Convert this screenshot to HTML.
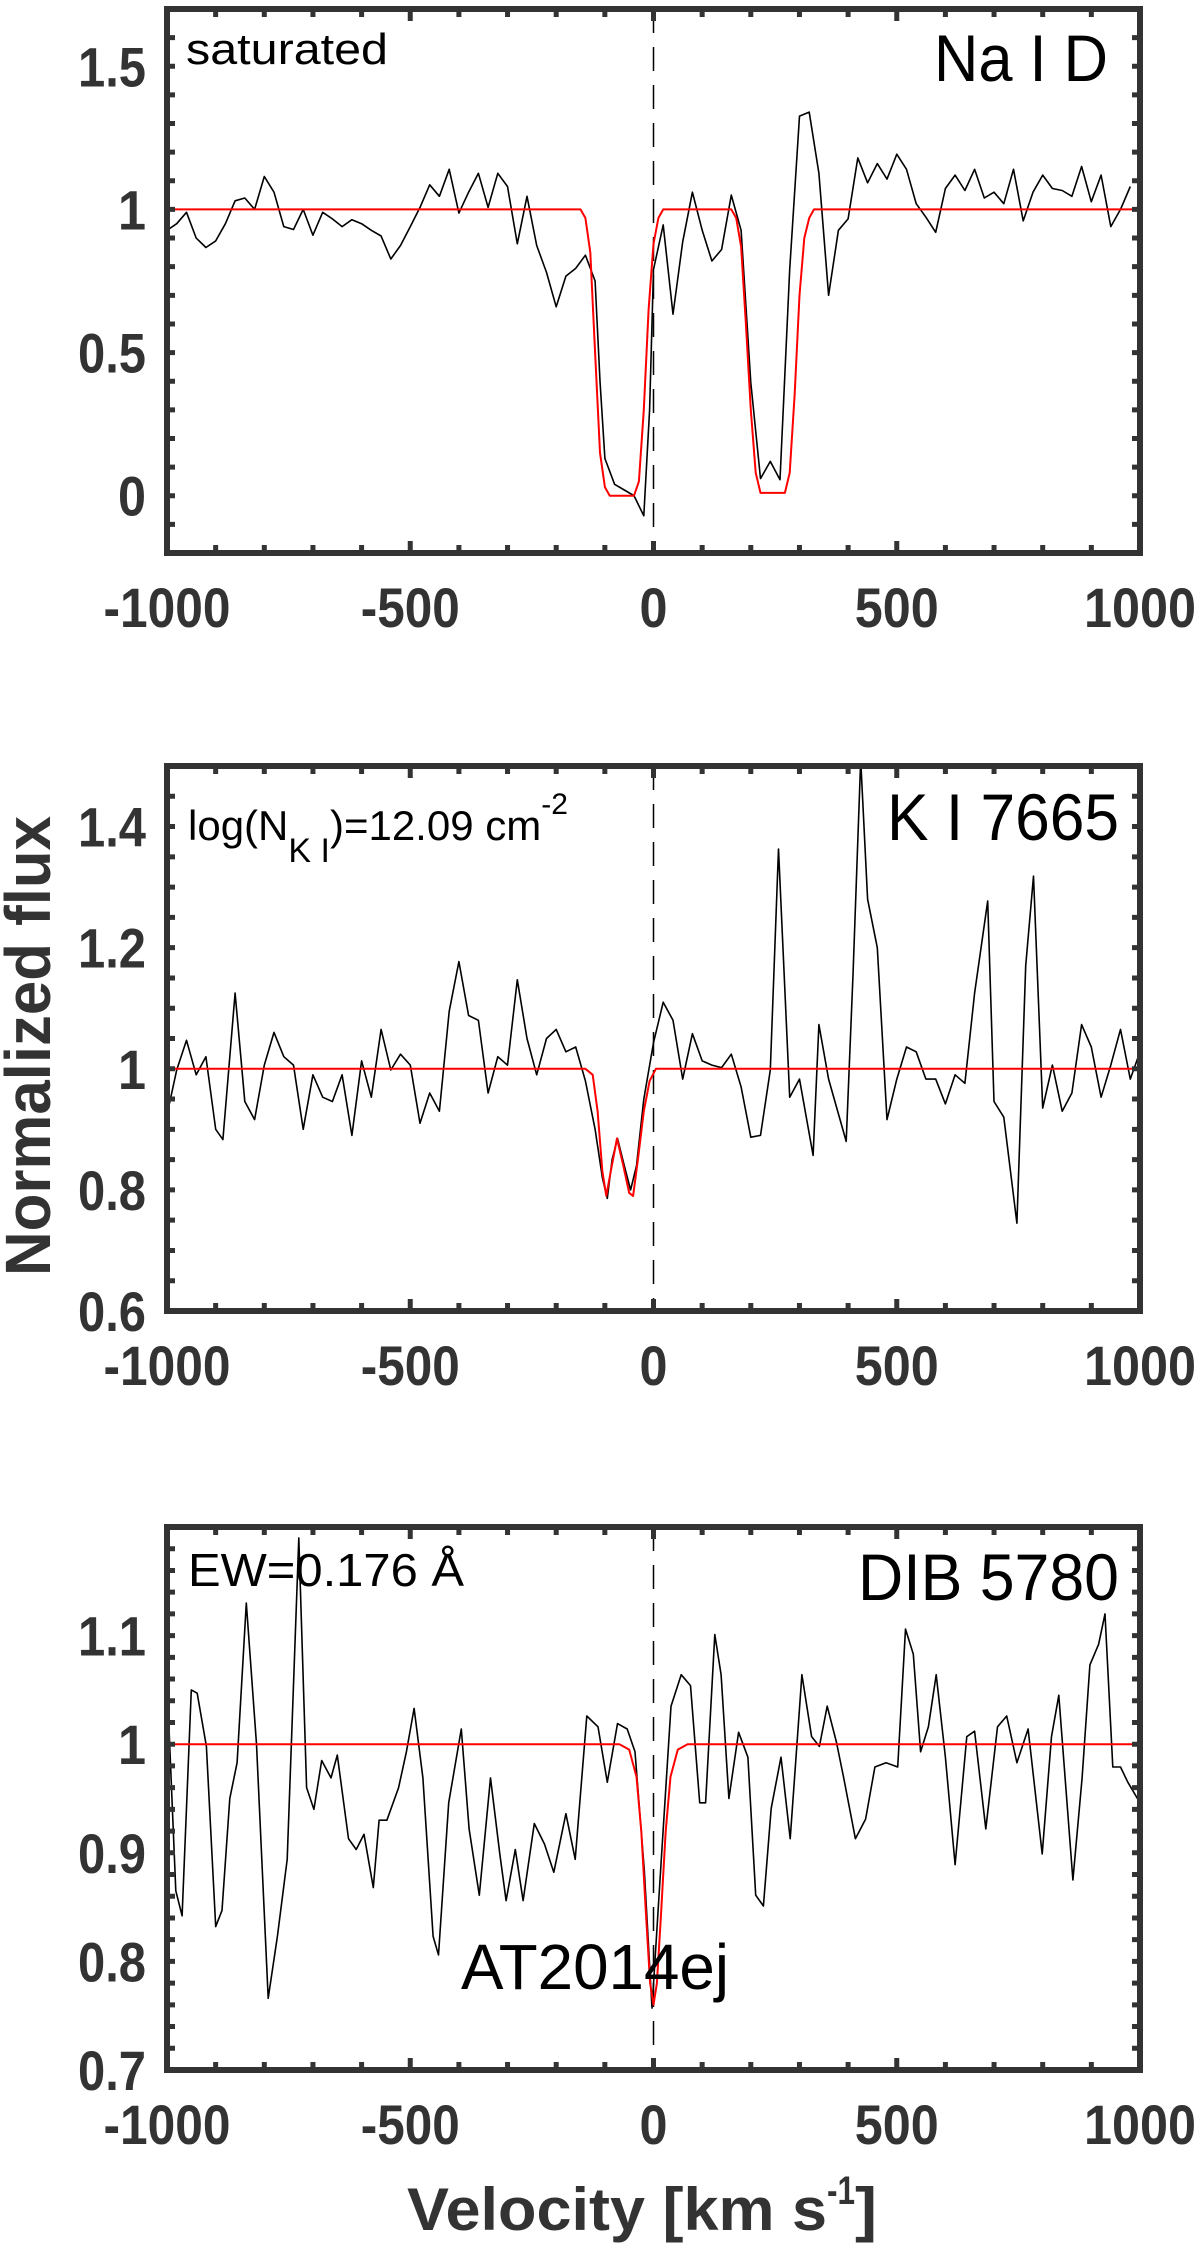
<!DOCTYPE html>
<html><head><meta charset="utf-8">
<style>
html,body{margin:0;padding:0;background:#fff;}
svg{display:block;font-family:"Liberation Sans",sans-serif;}
</style></head>
<body>
<svg id="fig" width="1200" height="2245" viewBox="0 0 1200 2245" xmlns="http://www.w3.org/2000/svg">
<text transform="translate(50,1046) rotate(-90)" text-anchor="middle" font-weight="bold" font-size="64" fill="#333" textLength="460" lengthAdjust="spacingAndGlyphs">Normalized flux</text>
<text x="407" y="2230" font-weight="bold" font-size="60" fill="#333">
<tspan textLength="420" lengthAdjust="spacingAndGlyphs">Velocity [km s</tspan><tspan dy="-26" font-size="40" textLength="28" lengthAdjust="spacingAndGlyphs">-1</tspan><tspan dy="26" textLength="22" lengthAdjust="spacingAndGlyphs">]</tspan></text>
</svg>
<script>
// ---------- Panel 1: Na I D ----------
const naVel = [-1000,-980,-960,-940,-920,-900,-880,-860,-840,-820,-800,-780,-760,-740,-720,-700,-680,-660,-640,-620,-600,-580,-560,-540,-520,-500,-480,-460,-440,-420,-400,-380,-360,-340,-320,-300,-280,-260,-240,-220,-200,-180,-160,-140,-120,-110,-100,-80,-60,-40,-20,-8,0,20,40,60,80,100,120,140,160,180,200,220,240,260,280,300,320,340,360,380,400,420,440,460,480,500,520,540,560,580,600,620,640,660,680,700,720,740,760,780,800,820,840,860,880,900,920,940,960,980,1000];
const naFlux = [0.927,0.95,0.99,0.90,0.867,0.89,0.95,1.03,1.04,1.0,1.115,1.06,0.94,0.93,1.0,0.91,0.99,0.967,0.94,0.964,0.95,0.927,0.907,0.827,0.874,0.94,1.007,1.086,1.046,1.14,0.987,1.06,1.126,1.007,1.126,1.08,0.88,1.046,0.874,0.78,0.66,0.767,0.794,0.84,0.75,0.40,0.13,0.04,0.02,0.0,-0.07,0.30,0.79,0.946,0.634,0.887,1.06,0.927,0.82,0.86,1.05,0.927,0.395,0.06,0.12,0.056,0.79,1.326,1.34,1.126,0.70,0.927,0.967,1.18,1.093,1.16,1.106,1.193,1.14,1.02,0.973,0.92,1.073,1.12,1.066,1.14,1.04,1.06,1.02,1.14,0.96,1.06,1.12,1.073,1.066,1.046,1.15,1.027,1.12,0.94,1.0,1.08];
const naFitVel = [-1000,-150,-140,-130,-120,-110,-100,-90,-40,-30,-20,-10,0,10,20,160,170,180,190,200,210,220,270,280,290,300,310,320,330,1000];
const naFitFlux = [1,1,0.97,0.85,0.5,0.15,0.03,0,0,0.05,0.3,0.65,0.88,0.97,1,1,0.97,0.87,0.6,0.3,0.08,0.01,0.01,0.08,0.35,0.7,0.9,0.97,1,1];
const naTicks = [0,0.5,1,1.5];
const naTickLabels = ["0","0.5","1","1.5"];

// ---------- Panel 2: K I 7665 ----------
const kVel = [-1000,-980,-960,-940,-920,-900,-885,-860,-840,-820,-800,-780,-760,-740,-720,-700,-680,-660,-640,-620,-600,-580,-560,-540,-520,-500,-480,-460,-440,-420,-400,-380,-360,-340,-320,-300,-280,-260,-240,-220,-200,-180,-160,-140,-120,-105,-95,-85,-74,-60,-47,-35,-20,0,20,40,60,80,100,120,140,160,180,200,220,240,257,280,300,328,340,360,396,410,426,440,460,480,500,520,540,560,580,600,620,640,660,687,700,720,747,765,781,800,820,840,860,880,900,920,940,960,980,1000];
const kFlux = [0.924,0.998,1.047,0.99,1.02,0.90,0.883,1.125,0.946,0.916,1.006,1.06,1.02,1.006,0.90,0.99,0.953,0.946,0.99,0.89,1.013,0.953,1.065,0.998,1.024,1.006,0.91,0.96,0.93,1.095,1.177,1.088,1.08,0.96,1.02,1.006,1.147,1.05,0.99,1.05,1.065,1.028,1.036,0.98,0.90,0.82,0.786,0.85,0.885,0.84,0.80,0.84,0.95,1.043,1.11,1.08,0.983,1.058,1.013,1.006,1.002,1.024,0.97,0.887,0.89,0.998,1.363,0.953,0.983,0.857,1.073,0.983,0.88,1.155,1.51,1.28,1.2,0.916,0.983,1.036,1.028,0.983,0.983,0.942,0.99,0.976,1.125,1.277,0.946,0.92,0.745,1.17,1.318,0.935,1.006,0.93,0.96,1.073,1.036,0.953,1.006,1.065,0.983,1.028];
const kFitVel = [-1000,-140,-125,-115,-105,-97,-88,-75,-62,-50,-42,-32,-20,-8,5,1000];
const kFitFlux = [1,1,0.99,0.93,0.83,0.79,0.83,0.885,0.84,0.795,0.79,0.85,0.93,0.98,1,1];
const kTicks = [0.6,0.8,1,1.2,1.4];
const kTickLabels = ["0.6","0.8","1","1.2","1.4"];

// ---------- Panel 3: DIB 5780 ----------
const dVel = [-1000,-982,-969,-950,-938,-919,-900,-887,-871,-856,-837,-816,-792,-773,-753,-729,-713,-698,-682,-663,-650,-627,-611,-595,-576,-564,-548,-524,-508,-492,-474,-453,-442,-421,-395,-379,-358,-335,-316,-303,-284,-268,-245,-224,-205,-180,-161,-137,-114,-95,-74,-54,-38,-19,-3,16,36,57,76,95,107,126,139,155,175,194,210,226,242,262,281,305,325,341,357,376,391,415,436,455,478,502,518,534,549,565,581,600,620,644,660,683,707,726,747,770,799,818,833,862,881,897,915,928,944,960,975,1000];
const dFlux = [1.059,0.865,0.842,1.05,1.047,0.998,0.832,0.847,0.95,0.983,1.13,1.0,0.766,0.823,0.894,1.19,0.96,0.94,0.985,0.969,0.99,0.913,0.903,0.917,0.868,0.93,0.93,0.96,0.993,1.033,0.969,0.823,0.806,0.946,1.014,0.922,0.861,0.969,0.899,0.856,0.903,0.856,0.927,0.908,0.882,0.936,0.894,1.026,1.016,0.965,1.019,1.014,0.993,0.884,0.757,0.894,1.035,1.064,1.054,0.946,0.946,1.101,1.064,0.95,1.011,0.988,0.861,0.851,0.941,0.988,0.913,1.064,1.007,0.998,1.035,1.002,0.969,0.913,0.931,0.979,0.983,0.979,1.106,1.083,0.993,1.016,1.064,0.988,0.889,1.007,1.012,0.922,1.016,1.026,0.983,1.014,0.899,1.007,1.045,0.875,0.969,1.073,1.092,1.12,0.979,0.979,0.965,0.946];
const dFitVel = [-1000,-70,-50,-35,-25,-15,-7,0,7,15,25,35,50,70,1000];
const dFitFlux = [1,1,0.995,0.97,0.92,0.84,0.78,0.76,0.78,0.84,0.92,0.97,0.995,1,1];
const dTicks = [0.7,0.8,0.9,1.0,1.1];
const dTickLabels = ["0.7","0.8","0.9","1","1.1"];

const xTicks = [-1000,-500,0,500,1000];
const xTickLabels = ["-1000","-500","0","500","1000"];

const NS = "http://www.w3.org/2000/svg";
const svg = document.getElementById('fig');
function mk(tag, attrs, parent){
  const e = document.createElementNS(NS, tag);
  for (const k in attrs) e.setAttribute(k, attrs[k]);
  (parent||svg).appendChild(e);
  return e;
}
function labelWidth(s){
  let w = 0;
  for (const c of s) w += (c === '.') ? 12 : (c === '-') ? 15 : 28;
  return w;
}
const L = 167, R = 1140;

function panel(cfg){
  const g = mk('g', {});
  
  
  const T = cfg.top, B = cfg.bottom;
  const xs = v => L + (v + 1000) / 2000 * (R - L);
  const ys = f => B - (f - cfg.ymin) / (cfg.ymax - cfg.ymin) * (B - T);
  const clipId = 'clip-' + cfg.name;
  const cp = mk('clipPath', {id: clipId}, g);
  mk('rect', {x: L, y: T, width: R - L, height: B - T}, cp);
  const zl = mk('line', {x1: xs(0), x2: xs(0), y1: T, y2: B, stroke: '#000', 'stroke-width': 1.5, 'stroke-dasharray': '24 14'}, g);
  
  
  const pts = cfg.vel.map((v, i) => xs(v).toFixed(1) + ',' + ys(cfg.flux[i]).toFixed(1)).join(' ');
  const dl = mk('polyline', {points: pts, fill: 'none', stroke: '#000', 'stroke-width': 1.6, 'stroke-linejoin': 'round', 'clip-path': 'url(#' + clipId + ')'}, g);
  
  
  const fpts = cfg.fitVel.map((v, i) => xs(v).toFixed(1) + ',' + ys(cfg.fitFlux[i]).toFixed(1)).join(' ');
  const fl = mk('polyline', {points: fpts, fill: 'none', stroke: '#ff0000', 'stroke-width': 2, 'stroke-linejoin': 'round', 'clip-path': 'url(#' + clipId + ')'}, g);
  
  
  let tp = '';
  for (let v = -1000; v <= 1000; v += 100) {
    const x = xs(v), len = (v % 500 === 0) ? 12 : 8;
    tp += `M${x},${B}v${-len}M${x},${T}v${len}`;
  }
  for (let f = cfg.ymin; f <= cfg.ymax + 1e-9; f += cfg.minor) {
    const y = ys(f);
    tp += `M${L},${y}h8M${R},${y}h-8`;
  }
  mk('path', {d: tp, stroke: '#333', 'stroke-width': 5, fill: 'none'}, g);
  const box = mk('rect', {x: L, y: T, width: R - L, height: B - T, fill: 'none', stroke: '#333', 'stroke-width': 6}, g);
  
  
  xTicks.forEach((v, i) => {
    const t = mk('text', {x: xs(v), y: B + 74, 'text-anchor': 'middle', 'font-size': 56, 'font-weight': 'bold', fill: '#333', textLength: labelWidth(xTickLabels[i]), lengthAdjust: 'spacingAndGlyphs'}, g);
    
    
    t.textContent = xTickLabels[i];
  });
  cfg.ticks.forEach((f, i) => {
    const t = mk('text', {x: 146, y: ys(f) + 20, 'text-anchor': 'end', 'font-size': 56, 'font-weight': 'bold', fill: '#333', textLength: labelWidth(cfg.tickLabels[i]), lengthAdjust: 'spacingAndGlyphs'}, g);
    
    
    t.textContent = cfg.tickLabels[i];
  });
  return g;
}

const g1 = panel({name: 'panel-na-i-d', top: 9, bottom: 553, ymin: -0.2, ymax: 1.7, minor: 0.1, vel: naVel, flux: naFlux, fitVel: naFitVel, fitFlux: naFitFlux, ticks: naTicks, tickLabels: naTickLabels});
const g2 = panel({name: 'panel-k-i-7665', top: 766, bottom: 1311, ymin: 0.6, ymax: 1.5, minor: 0.05, vel: kVel, flux: kFlux, fitVel: kFitVel, fitFlux: kFitFlux, ticks: kTicks, tickLabels: kTickLabels});
const g3 = panel({name: 'panel-dib-5780', top: 1527, bottom: 2070, ymin: 0.7, ymax: 1.2, minor: 0.02, vel: dVel, flux: dFlux, fitVel: dFitVel, fitFlux: dFitFlux, ticks: dTicks, tickLabels: dTickLabels});

function label(parent, name, x, y, size, len, txt){
  const t = mk('text', {x: x, y: y, 'font-size': size, fill: '#000', textLength: len, lengthAdjust: 'spacingAndGlyphs'}, parent);
  
  
  t.textContent = txt;
  return t;
}
label(g1, 'saturated-note', 186, 64, 44, 202, 'saturated');
label(g1, 'panel-title-na-i-d', 934, 81, 66, 174, 'Na I D');
label(g2, 'panel-title-k-i-7665', 887, 840, 66, 232, 'K I 7665');
label(g3, 'ew-note', 188, 1586, 46, 276, 'EW=0.176 Å');
label(g3, 'panel-title-dib-5780', 858, 1600, 66, 261, 'DIB 5780');
label(g3, 'object-name', 461, 1989, 64, 268, 'AT2014ej');

const cd = mk('text', {x: 188, y: 840, 'font-size': 42, fill: '#000'}, g2);


cd.innerHTML = '<tspan>log(N</tspan><tspan dy="22" font-size="34">K I</tspan><tspan dy="-22">)=12.09 cm</tspan><tspan dy="-26" font-size="30">-2</tspan>';
</script>
</body></html>
